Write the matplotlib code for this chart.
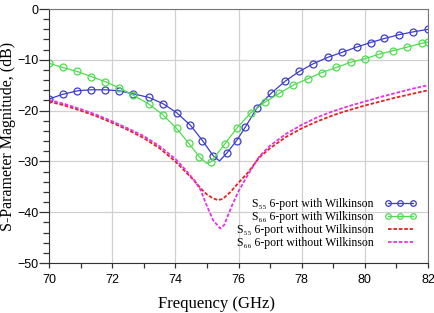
import numpy as np
import matplotlib
matplotlib.use('Agg')
import matplotlib.pyplot as plt
from matplotlib.ticker import MultipleLocator

# S55 with Wilkinson (line points, the dip point carries no marker)
f_s55w = [70.01, 70.43, 70.9, 71.34, 71.78, 72.22, 72.67, 73.16, 73.6, 74.04, 74.48, 74.86, 75.2,
          75.4, 75.64, 75.94, 76.21, 76.59, 77.03, 77.48, 77.92, 78.36, 78.83, 79.29, 79.74,
          80.18, 80.62, 81.09, 81.53, 82.0]
s55w = [-17.7, -16.8, -16.1, -15.9, -15.9, -16.1, -16.7, -17.4, -18.6, -20.4, -22.9, -25.9, -28.9,
        -29.9, -28.3, -25.9, -23.3, -19.4, -16.6, -14.2, -12.3, -10.8, -9.5, -8.5, -7.5,
        -6.6, -5.8, -5.05, -4.5, -4.0]

# S66 with Wilkinson
f_s66w = [70.01, 70.43, 70.9, 71.34, 71.78, 72.22, 72.67, 73.16, 73.6, 74.04, 74.42, 74.76,
          75.0, 75.13, 75.56, 75.94, 76.38, 76.84, 77.29, 77.73, 78.2, 78.64, 79.1, 79.55,
          79.99, 80.45, 80.9, 81.34, 81.8, 82.0]
s66w = [-10.7, -11.5, -12.3, -13.3, -14.3, -15.5, -17.0, -18.7, -20.8, -23.5, -26.4, -29.1,
        -30.4, -30.1, -26.6, -23.5, -20.5, -18.3, -16.6, -15.0, -13.7, -12.5, -11.5, -10.5,
        -9.8, -8.9, -8.2, -7.5, -6.75, -6.5]

# S55 without Wilkinson
f_s55 = [70, 70.5, 71, 71.5, 72, 72.5, 73, 73.5, 74, 74.3, 74.6, 74.8, 75.0, 75.2, 75.35, 75.5,
         75.75, 76.0, 76.3, 76.66, 77.0, 77.5, 78, 78.5, 79, 79.5, 80, 80.5, 81, 81.5, 82]
s55 = [-18.2, -19.0, -20.0, -21.1, -22.4, -23.8, -25.4, -27.4, -30.0, -31.9, -33.8, -35.3, -36.5,
       -37.3, -37.6, -37.4, -36.0, -34.2, -32.2, -29.2, -27.4, -25.2, -23.5, -22.1, -20.9, -19.9,
       -19.0, -18.2, -17.4, -16.7, -16.0]

# S66 without Wilkinson
f_s66 = [70, 70.5, 71, 71.5, 72, 72.5, 73, 73.5, 74, 74.3, 74.6, 74.8, 75.0, 75.2, 75.42, 75.55,
         75.65, 75.8, 76.0, 76.3, 76.66, 77, 77.5, 78, 78.5, 79, 79.5, 80, 80.5, 81, 81.5, 82]
s66 = [-17.9, -18.7, -19.7, -20.8, -22.1, -23.5, -25.0, -27.0, -29.5, -31.5, -33.7, -35.6, -38.8,
       -41.6, -43.2, -42.5, -40.9, -38.6, -35.9, -32.6, -29.0, -26.9, -24.6, -22.8, -21.3, -20.1,
       -19.1, -18.2, -17.3, -16.5, -15.7, -15.0]

labels = ['S₅₅ 6-port with Wilkinson', 'S₆₆ 6-port with Wilkinson',
          'S₅₅ 6-port without Wilkinson', 'S₆₆ 6-port without Wilkinson']

fig = plt.figure(figsize=(4.34, 3.13), dpi=100)
ax = fig.add_axes([0.1129, 0.1597, 0.8733, 0.8115])

mk_blue = [i for i in range(len(f_s55w)) if i != 13]
mk_green = [i for i in range(len(f_s66w)) if i != 12]
ax.plot(f_s55w, s55w, color='#3c3ccf', lw=0.9, marker='o', ms=5, mfc='none', mew=0.9,
        markevery=mk_blue, label=labels[0])
ax.plot(f_s66w, s66w, color='#4fdc4f', lw=0.9, marker='o', ms=5, mfc='none', mew=0.9,
        markevery=mk_green, label=labels[1])
ax.plot(f_s55, s55, color='#e82020', lw=1.3, ls=(0, (2, 1)), label=labels[2])
ax.plot(f_s66, s66, color='#e830e8', lw=1.3, ls=(0, (2, 1)), label=labels[3])

ax.set_xlim(70, 82)
ax.set_ylim(-50, 0)
ax.xaxis.set_major_locator(MultipleLocator(2))
ax.xaxis.set_minor_locator(MultipleLocator(1))
ax.yaxis.set_major_locator(MultipleLocator(10))
ax.yaxis.set_minor_locator(MultipleLocator(2))
ax.grid(True, which='major', color='#d0d0d0', lw=0.9)
ax.tick_params(axis='y', which='major', length=7.2, width=0.9, pad=0.5, color='#333333')
ax.tick_params(axis='y', which='minor', length=4.3, width=0.9, color='#333333')
ax.tick_params(axis='x', which='both', length=3.6, width=0.9, pad=4, color='#333333')
ax.tick_params(top=False, right=False)
for lab in ax.get_xticklabels() + ax.get_yticklabels():
    lab.set_family('Liberation Sans')
    lab.set_fontsize(9)
for s in ['top', 'right']:
    ax.spines[s].set_color('#777777')
for s in ['left', 'bottom']:
    ax.spines[s].set_color('#333333')

ax.set_xlabel('Frequency (GHz)', family='Liberation Serif', fontsize=12)
ax.set_ylabel('S-Parameter Magnitude, (dB)', family='Liberation Serif', fontsize=11.5)
ax.xaxis.set_label_coords(0.443, -0.128)
ax.yaxis.set_label_coords(-0.086, 0.5)

leg = ax.legend(loc='lower right', bbox_to_anchor=(0.985, 0.03), frameon=False, markerfirst=False,
                prop={'family': ['Liberation Serif', 'DejaVu Serif'], 'size': 8.5},
                labelspacing=0.1, handlelength=2.7, handletextpad=0.9, borderpad=0.0,
                numpoints=3)
for h in leg.legend_handles[:2]:
    h.set_markersize(4)

fig.savefig('out.png', dpi=100)
